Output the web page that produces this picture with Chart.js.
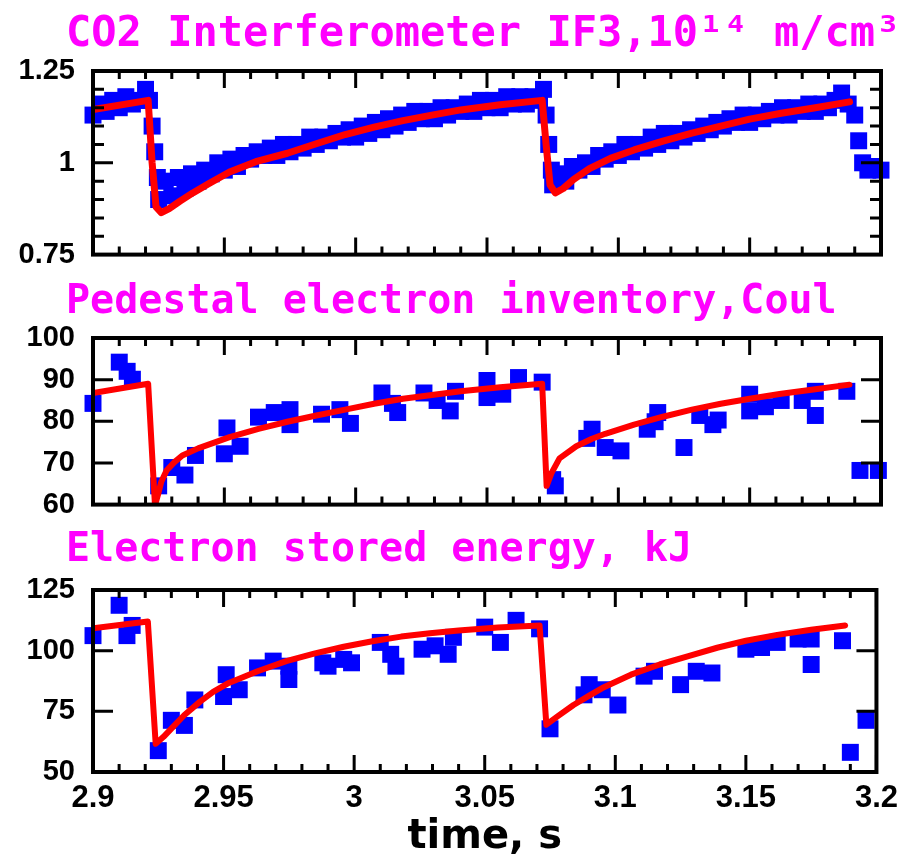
<!DOCTYPE html>
<html>
<head>
<meta charset="utf-8">
<script src="https://cdn.jsdelivr.net/npm/chart.js@4.4.0/dist/chart.umd.min.js"></script>
<style>
  body { margin: 0; background: #fff; width: 906px; height: 860px; overflow: hidden; position: relative; }
  canvas { position: absolute; left: 0; }
</style>
</head>
<body>
<canvas id="c1" width="906" height="290" style="top:0px"></canvas>
<canvas id="c2" width="906" height="270" style="top:270px"></canvas>
<canvas id="c3" width="906" height="340" style="top:520px"></canvas>
<script>
// --- data ---
const titles = ['CO2 Interferometer IF3,10¹⁴ m/cm³', 'Pedestal electron inventory,Coul', 'Electron stored energy, kJ'];

const xTickVals = [2.9, 2.95, 3, 3.05, 3.1, 3.15, 3.2];
const xTickLabels = ['2.9', '2.95', '3', '3.05', '3.1', '3.15', '3.2'];
const xTitle = 'time, s';

const ifTicks = [0.75, 1, 1.25];
const ifTickLabels = ['0.75', '1', '1.25'];
const pedTicks = [60, 70, 80, 90, 100];
const pedTickLabels = ['60', '70', '80', '90', '100'];
const weTicks = [50, 75, 100, 125];
const weTickLabels = ['50', '75', '100', '125'];

// CO2 interferometer measured (blue)
const ifTime = [2.9000, 2.9025, 2.9050, 2.9075, 2.9100, 2.9125, 2.9150, 2.9175, 2.9200, 2.9215, 2.9225, 2.9235, 2.9245,
  2.9250, 2.9275, 2.9300, 2.9325, 2.9350, 2.9375, 2.9400, 2.9425, 2.9450, 2.9475, 2.9500, 2.9525, 2.9550, 2.9575,
  2.9600, 2.9625, 2.9650, 2.9675, 2.9700, 2.9725, 2.9750, 2.9775, 2.9800, 2.9825, 2.9850, 2.9875, 2.9900, 2.9925,
  2.9950, 2.9975, 3.0000, 3.0025, 3.0050, 3.0075, 3.0100, 3.0125, 3.0150, 3.0175, 3.0200, 3.0225, 3.0250, 3.0275,
  3.0300, 3.0325, 3.0350, 3.0375, 3.0400, 3.0425, 3.0450, 3.0475, 3.0500, 3.0525, 3.0550, 3.0575, 3.0600, 3.0625,
  3.0650, 3.0675, 3.0700, 3.0715, 3.0725, 3.0735, 3.0745, 3.0750, 3.0775, 3.0800, 3.0825, 3.0850, 3.0875, 3.0900,
  3.0925, 3.0950, 3.0975, 3.1000, 3.1025, 3.1050, 3.1075, 3.1100, 3.1125, 3.1150, 3.1175, 3.1200, 3.1225, 3.1250,
  3.1275, 3.1300, 3.1325, 3.1350, 3.1375, 3.1400, 3.1425, 3.1450, 3.1475, 3.1500, 3.1525, 3.1550, 3.1575, 3.1600,
  3.1625, 3.1650, 3.1675, 3.1700, 3.1725, 3.1750, 3.1775, 3.1800, 3.1825, 3.1850, 3.1875, 3.1900, 3.1915, 3.1930,
  3.1950, 3.1975, 3.2000];
const ifVal = [1.13, 1.16, 1.14, 1.17, 1.15, 1.18, 1.16, 1.17, 1.20, 1.17, 1.10, 1.03, 0.96,
  0.90, 0.95, 0.91, 0.96, 0.93, 0.97, 0.95, 0.98, 0.97, 1.00, 0.98, 1.01, 0.99, 1.02,
  1.01, 1.03, 1.02, 1.04, 1.02, 1.05, 1.03, 1.05, 1.04, 1.07, 1.05, 1.07, 1.06, 1.08,
  1.07, 1.09, 1.07, 1.10, 1.08, 1.11, 1.09, 1.12, 1.10, 1.13, 1.11, 1.14, 1.12, 1.14,
  1.12, 1.15, 1.13, 1.15, 1.14, 1.16, 1.14, 1.17, 1.15, 1.17, 1.15, 1.18, 1.16, 1.18,
  1.16, 1.18, 1.17, 1.20, 1.13, 1.05, 0.98, 0.94, 0.97, 0.95, 0.99, 0.98, 1.00, 0.99,
  1.02, 1.01, 1.03, 1.02, 1.05, 1.03, 1.05, 1.04, 1.07, 1.05, 1.08, 1.06, 1.08, 1.07,
  1.09, 1.08, 1.10, 1.09, 1.11, 1.10, 1.12, 1.11, 1.13, 1.11, 1.13, 1.12, 1.14, 1.13,
  1.15, 1.13, 1.15, 1.14, 1.16, 1.14, 1.16, 1.15, 1.17, 1.19, 1.16, 1.13, 1.06, 1.00,
  0.98, 0.99, 0.98];
// CO2 interferometer model (red)
const ifFitTime = [2.900, 2.921, 2.9225, 2.924, 2.926, 2.929, 2.933, 2.938, 2.944, 2.952, 2.962, 2.974, 2.985, 2.996,
  3.007, 3.018, 3.029, 3.040, 3.055, 3.071, 3.0725, 3.074, 3.076, 3.079, 3.083, 3.089, 3.097, 3.106, 3.117, 3.128,
  3.139, 3.150, 3.162, 3.175, 3.188];
const ifFitVal = [1.145, 1.170, 1.00, 0.88, 0.864, 0.875, 0.895, 0.918, 0.943, 0.975, 1.003, 1.026, 1.052, 1.077,
  1.097, 1.115, 1.130, 1.144, 1.158, 1.170, 1.05, 0.94, 0.918, 0.93, 0.955, 0.984, 1.012, 1.035, 1.059, 1.081,
  1.100, 1.119, 1.135, 1.150, 1.166];

// pedestal electron inventory (blue)
const pedTime = [2.900, 2.910, 2.913, 2.915, 2.925, 2.930, 2.935, 2.939, 2.950, 2.951, 2.956, 2.963, 2.969, 2.975,
  2.975, 2.987, 2.994, 2.998, 3.010, 3.014, 3.016, 3.026, 3.031, 3.036, 3.038, 3.050, 3.050, 3.056, 3.062, 3.071,
  3.075, 3.076, 3.088, 3.090, 3.095, 3.101, 3.111, 3.114, 3.115, 3.125, 3.131, 3.136, 3.138, 3.150, 3.150, 3.156,
  3.162, 3.170, 3.175, 3.175, 3.187, 3.192, 3.199];
const pedVal = [84.3, 94.2, 92.0, 90.1, 64.5, 68.9, 67.1, 71.8, 72.2, 78.4, 74.0, 81.0, 82.1, 82.8,
  79.2, 81.7, 82.8, 79.5, 86.8, 84.3, 82.1, 86.8, 85.0, 82.5, 87.2, 89.8, 85.7, 86.5, 90.5, 89.4,
  66.0, 64.5, 75.9, 78.1, 73.7, 72.9, 78.1, 79.9, 82.1, 73.7, 81.4, 79.2, 80.3, 86.5, 82.5, 83.5,
  85.0, 85.0, 87.2, 81.4, 87.2, 68.2, 68.2];
// pedestal model (red)
const pedFitTime = [2.900, 2.921, 2.9236, 2.925, 2.926, 2.928, 2.931, 2.934, 2.940, 2.952, 2.963, 2.974, 2.985, 2.996,
  3.007, 3.018, 3.029, 3.040, 3.055, 3.071, 3.0727, 3.0745, 3.0776, 3.084, 3.090, 3.095, 3.106, 3.117, 3.128, 3.139,
  3.150, 3.162, 3.175, 3.188];
const pedFitVal = [86.8, 89.0, 59.8, 63.0, 65.5, 68.2, 70.2, 71.8, 73.5, 76.2, 78.2, 79.9, 81.4, 82.8,
  84.2, 85.4, 86.3, 87.2, 88.2, 89.0, 64.5, 67.5, 71.1, 74.0, 75.8, 77.0, 79.2, 81.1, 82.8, 84.2,
  85.4, 86.6, 87.7, 88.8];

// electron stored energy (blue)
const weTime = [2.900, 2.910, 2.913, 2.915, 2.925, 2.930, 2.935, 2.939, 2.950, 2.951, 2.956, 2.963, 2.969, 2.975,
  2.975, 2.988, 2.990, 2.996, 2.999, 3.010, 3.014, 3.016, 3.026, 3.031, 3.036, 3.038, 3.050, 3.056, 3.062, 3.071,
  3.075, 3.088, 3.090, 3.095, 3.101, 3.111, 3.115, 3.125, 3.131, 3.137, 3.150, 3.156, 3.162, 3.170, 3.175, 3.175,
  3.187, 3.190, 3.196];
const weVal = [106.2, 118.7, 106.2, 110.4, 58.8, 71.3, 69.2, 79.7, 81.1, 90.1, 83.9, 92.9, 95.7, 93.6,
  88.1, 95.0, 93.6, 96.4, 95.0, 103.4, 98.5, 93.6, 100.6, 102.0, 98.5, 105.5, 109.7, 103.4, 112.5, 109.0,
  67.8, 81.8, 86.0, 83.9, 77.6, 89.5, 91.5, 86.0, 91.5, 90.8, 100.6, 101.3, 103.4, 104.8, 104.8, 94.3,
  104.1, 58.1, 71.3];
// stored energy model (red)
const weFitTime = [2.900, 2.921, 2.924, 2.927, 2.930, 2.935, 2.941, 2.946, 2.952, 2.963, 2.974, 2.985, 2.996, 3.007,
  3.018, 3.029, 3.040, 3.055, 3.071, 3.0736, 3.078, 3.084, 3.090, 3.095, 3.106, 3.117, 3.128, 3.139, 3.150, 3.162,
  3.175, 3.188];
const weFitVal = [109.2, 112.0, 61.6, 64.5, 67.9, 73.5, 79.0, 83.0, 86.7, 91.5, 95.7, 98.9, 101.6, 103.9,
  105.8, 107.2, 108.3, 109.5, 110.4, 69.5, 73.0, 77.6, 81.5, 84.6, 90.1, 94.3, 97.8, 101.2, 104.1, 106.5,
  108.6, 110.4];

// --- drawing ---
const pts = (xs, ys) => xs.map((x, i) => ({ x: x, y: ys[i] }));

// frame, inward tick marks and magenta panel title
const framePlugin = {
  id: 'frame',
  afterDraw(chart, args, o) {
    const ctx = chart.ctx, a = chart.chartArea;
    const xs = chart.scales.x, ys = chart.scales.y;
    ctx.save();
    ctx.strokeStyle = '#000';
    ctx.lineWidth = 3;
    ctx.beginPath();
    for (let i = 0; i <= 30; i++) {
      const px = xs.getPixelForValue(2.9 + i * 0.01);
      const len = i % 5 === 0 ? 17 : 8;
      ctx.moveTo(px, a.bottom); ctx.lineTo(px, a.bottom - len);
      ctx.moveTo(px, a.top); ctx.lineTo(px, a.top + len);
    }
    const n = Math.round((o.yMax - o.yMin) / o.yMinor);
    for (let i = 0; i <= n; i++) {
      const v = o.yMin + i * o.yMinor;
      const py = ys.getPixelForValue(v);
      const major = o.majors.some(m => Math.abs(m - v) < 1e-6);
      const len = major ? 20 : 11;
      ctx.moveTo(a.left, py); ctx.lineTo(a.left + len, py);
      ctx.moveTo(a.right, py); ctx.lineTo(a.right - len, py);
    }
    ctx.stroke();
    ctx.lineWidth = 4;
    ctx.strokeRect(a.left, a.top, a.right - a.left, a.bottom - a.top);
    ctx.fillStyle = '#ff00ff';
    ctx.font = 'bold ' + o.titleSize + 'px "DejaVu Sans Mono", monospace';
    ctx.textBaseline = 'alphabetic';
    ctx.textAlign = 'left';
    ctx.fillText(o.title, o.titleX, o.titleY);
    ctx.restore();
  }
};

const tickFont = { family: '"Liberation Sans", Arial, sans-serif', weight: 'bold', size: 29 };

function makePanel(id, p) {
  const xAxis = {
    type: 'linear', min: 2.9, max: 3.2, display: p.showX,
    grid: { display: false, drawTicks: false },
    border: { display: false },
    afterFit: s => { s.height = p.showX ? 88 : 0; },
    afterBuildTicks: s => { s.ticks = xTickVals.map(v => ({ value: v })); },
    ticks: {
      font: { family: '"Liberation Sans", Arial, sans-serif', weight: 'bold', size: 31 },
      color: '#000', padding: 8, autoSkip: false, maxRotation: 0,
      callback: (v, i) => xTickLabels[i]
    },
    title: {
      display: true, text: xTitle, color: '#000',
      font: { family: '"DejaVu Sans", sans-serif', weight: 'bold', size: 40, lineHeight: 1 },
      padding: { top: 0, bottom: 2 }
    }
  };
  return new Chart(document.getElementById(id), {
    type: 'scatter',
    data: {
      datasets: [
        {
          type: 'line', data: pts(p.fitT, p.fitV), borderColor: '#ff0000', borderWidth: p.lineW,
          pointRadius: 0, fill: false, tension: 0, borderJoinStyle: 'round', borderCapStyle: 'round'
        },
        {
          type: 'scatter', data: pts(p.t, p.v), pointStyle: 'rect', pointRadius: p.r,
          backgroundColor: '#0000ff', borderWidth: 0, pointBorderWidth: 0, clip: false
        }
      ]
    },
    options: {
      responsive: false, animation: false, events: [],
      layout: { padding: { left: 0, right: 25, top: p.top, bottom: p.bottom } },
      plugins: {
        legend: { display: false }, tooltip: { enabled: false },
        frame: { title: p.title, titleX: 66, titleY: p.titleY, titleSize: p.titleSize,
                 yMin: p.yMin, yMax: p.yMax, yMinor: p.yMinor, majors: p.yTicks }
      },
      scales: {
        x: xAxis,
        y: {
          min: p.yMin, max: p.yMax,
          grid: { display: false, drawTicks: false },
          border: { display: false },
          afterFit: s => { s.width = 93; },
          afterBuildTicks: s => { s.ticks = p.yTicks.map(v => ({ value: v })); },
          ticks: { font: tickFont, color: '#000', padding: 18, callback: (v, i) => p.yLabels[i] }
        }
      }
    },
    plugins: [framePlugin]
  });
}

makePanel('c1', {
  t: ifTime, v: ifVal, fitT: ifFitTime, fitV: ifFitVal, r: 12, lineW: 7,
  yMin: 0.75, yMax: 1.25, yMinor: 0.05, yTicks: ifTicks, yLabels: ifTickLabels,
  title: titles[0], titleY: 46, titleSize: 42, top: 71, bottom: 25, showX: false
});
makePanel('c2', {
  t: pedTime, v: pedVal, fitT: pedFitTime, fitV: pedFitVal, r: 12, lineW: 6,
  yMin: 60, yMax: 100, yMinor: 10, yTicks: pedTicks, yLabels: pedTickLabels,
  title: titles[1], titleY: 43, titleSize: 40, top: 68, bottom: 22, showX: false
});
makePanel('c3', {
  t: weTime, v: weVal, fitT: weFitTime, fitV: weFitVal, r: 12, lineW: 6,
  yMin: 50, yMax: 125, yMinor: 25, yTicks: weTicks, yLabels: weTickLabels,
  title: titles[2], titleY: 41, titleSize: 40, top: 70, bottom: 0, showX: true
});
</script>
</body>
</html>
